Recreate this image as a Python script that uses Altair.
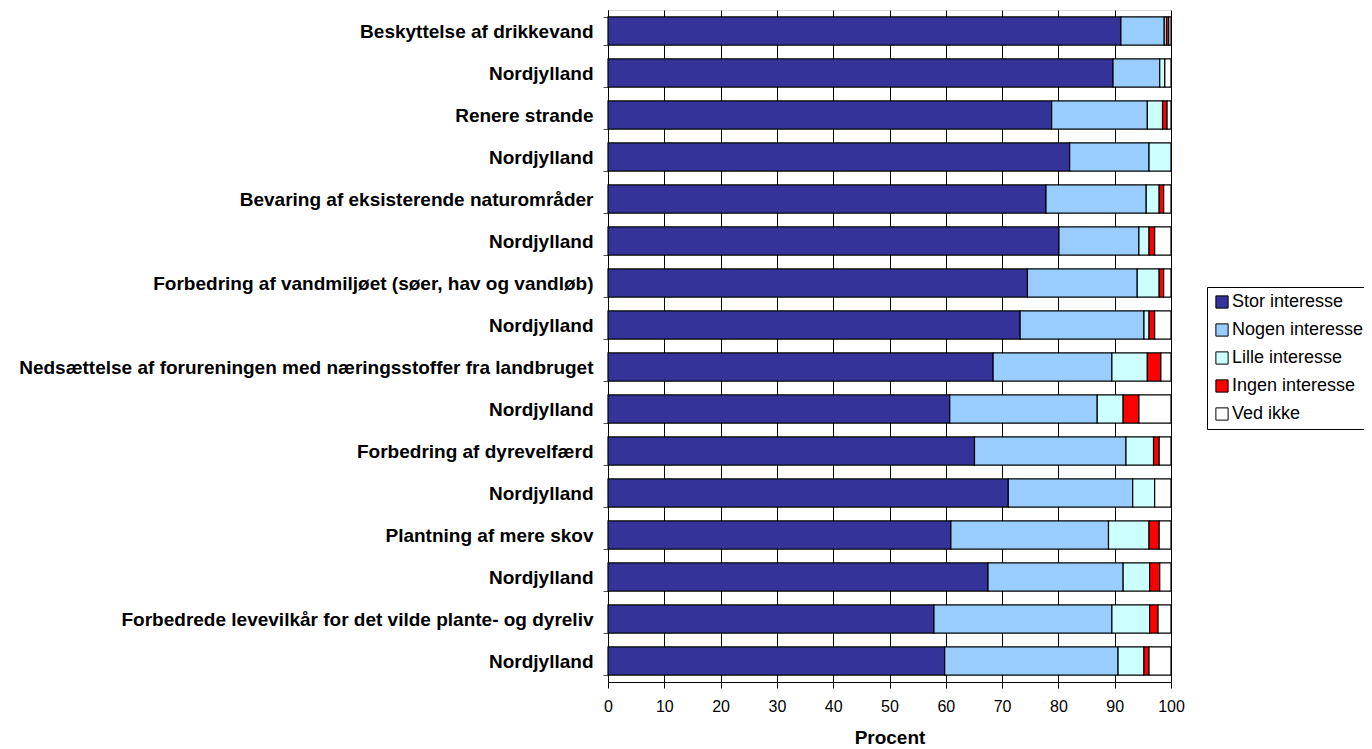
import json
import altair as alt
import pandas as pd

labels = [
    "Beskyttelse af drikkevand",
    "Nordjylland",
    "Renere strande",
    "Nordjylland",
    "Bevaring af eksisterende naturområder",
    "Nordjylland",
    "Forbedring af vandmiljøet (søer, hav og vandløb)",
    "Nordjylland",
    "Nedsættelse af forureningen med næringsstoffer fra landbruget",
    "Nordjylland",
    "Forbedring af dyrevelfærd",
    "Nordjylland",
    "Plantning af mere skov",
    "Nordjylland",
    "Forbedrede levevilkår for det vilde plante- og dyreliv",
    "Nordjylland",
]

series = ["Stor interesse", "Nogen interesse", "Lille interesse", "Ingen interesse", "Ved ikke"]
colors = ["#333399", "#99CCFF", "#CCFFFF", "#FF0000", "#FFFFFF"]

stor = [91.1, 89.7, 78.8, 82.0, 77.8, 80.1, 74.5, 73.2, 68.4, 60.7, 65.1, 71.1, 60.9, 67.5, 57.9, 59.8]
nogen = [7.7, 8.3, 17.0, 14.1, 17.8, 14.2, 19.5, 22.0, 21.1, 26.2, 26.9, 22.1, 28.0, 24.0, 31.6, 30.8]
lille = [0.4, 0.9, 2.7, 3.9, 2.3, 1.8, 3.9, 0.9, 6.3, 4.6, 4.9, 3.9, 7.2, 4.7, 6.7, 4.6]
ingen = [0.4, 0.0, 0.8, 0.0, 0.8, 1.0, 0.8, 1.0, 2.4, 2.8, 1.0, 0.0, 1.8, 1.8, 1.5, 0.9]
vedikke = [0.4, 1.1, 0.7, 0.0, 1.3, 2.9, 1.3, 2.9, 1.8, 5.7, 2.1, 2.9, 2.1, 2.0, 2.3, 3.9]

values = [stor, nogen, lille, ingen, vedikke]
rows = []
for i in range(len(labels)):
    for k, s in enumerate(series):
        v = values[k][i]
        if v > 0:
            rows.append({"row": i, "serie": s, "order": k, "value": v})
df = pd.DataFrame(rows)

FONT = "Liberation Sans"
label_expr = json.dumps(labels) + "[datum.value]"

chart = (
    alt.Chart(df)
    .mark_bar(stroke="black", strokeWidth=1.2)
    .encode(
        x=alt.X(
            "value:Q",
            stack="zero",
            scale=alt.Scale(domain=[0, 100], nice=False),
            axis=alt.Axis(
                title="Procent",
                values=list(range(0, 101, 10)),
                grid=True,
                gridColor="black",
                gridWidth=1,
                gridOpacity=1,
                domainColor="black",
                tickColor="black",
                tickSize=6,
                labelFlush=False,
                labelFontSize=16,
                labelFont=FONT,
                labelColor="black",
                labelPadding=10,
                titleFont=FONT,
                titleFontSize=19,
                titleFontWeight="bold",
                titleColor="black",
                titlePadding=14,
            ),
        ),
        y=alt.Y(
            "row:O",
            scale=alt.Scale(paddingInner=0.33, paddingOuter=0.165),
            axis=alt.Axis(
                title=None,
                labelExpr=label_expr,
                labelFont=FONT,
                labelFontSize=19,
                labelFontWeight="bold",
                labelColor="black",
                labelPadding=10,
                labelLimit=700,
                tickBand="extent",
                tickSize=5,
                tickColor="#555555",
                domainColor="black",
                grid=False,
            ),
        ),
        color=alt.Color(
            "serie:N",
            scale=alt.Scale(domain=series, range=colors),
            legend=alt.Legend(
                title=None,
                orient="none",
                legendX=599,
                legendY=277,
                symbolType="square",
                symbolSize=150,
                symbolStrokeColor="black",
                symbolStrokeWidth=1,
                labelFont=FONT,
                labelFontSize=18,
                labelColor="black",
                labelOffset=1,
                rowPadding=10,
                padding=6,
                strokeColor="black",
                fillColor="white",
                labelLimit=300,
            ),
        ),
        order=alt.Order("order:Q", sort="ascending"),
    )
    .properties(
        width=563,
        height=672,
        autosize=alt.AutoSizeParams(type="none"),
        padding={"left": 600, "top": 2, "right": 193, "bottom": 64},
    )
    .configure_view(stroke="#808080", strokeWidth=1.5)
    .configure(background="white")
)

chart.save("out.html", embed_options={"renderer": "svg", "actions": False})
